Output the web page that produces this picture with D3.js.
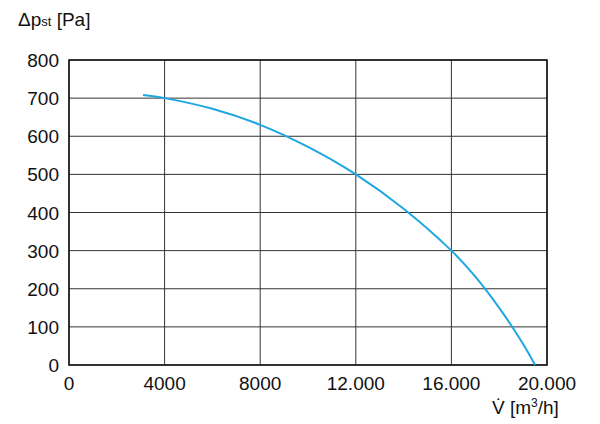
<!DOCTYPE html>
<html><head><meta charset="utf-8">
<script src="https://cdn.jsdelivr.net/npm/d3@7"></script>
<style>
body{margin:0;background:#fff}
text{font-family:"Liberation Sans Narrow","Liberation Sans",Arial,sans-serif;font-size:19px;fill:#111}
</style></head><body>
<div id="chart"></div>
<script>
// data
const flow = [3100, 4000, 6000, 8000, 10000, 12000, 14000, 16000, 17000, 18000, 19000, 19500];
const pressure = [708, 700, 672, 630, 572, 500, 410, 300, 232, 150, 55, 0];
const xTicks = [0, 4000, 8000, 12000, 16000, 20000];
const xTickLabels = ["0", "4000", "8000", "12.000", "16.000", "20.000"];
const yTicks = [0, 100, 200, 300, 400, 500, 600, 700, 800];

const width = 600, height = 424;
const m = {left: 69, right: 53, top: 60, bottom: 59};

const svg = d3.select("#chart").append("svg")
  .attr("width", width).attr("height", height);

const x = d3.scaleLinear().domain([0, 20000]).range([m.left, width - m.right]);
const y = d3.scaleLinear().domain([0, 800]).range([height - m.bottom, m.top]);

// grid
svg.append("g").selectAll("line").data(xTicks).join("line")
  .attr("x1", d => x(d)).attr("x2", d => x(d))
  .attr("y1", y(0)).attr("y2", y(800))
  .attr("stroke", "#333").attr("stroke-width", 1);
svg.append("g").selectAll("line").data(yTicks).join("line")
  .attr("x1", x(0)).attr("x2", x(20000))
  .attr("y1", d => y(d)).attr("y2", d => y(d))
  .attr("stroke", "#333").attr("stroke-width", 1);
svg.append("rect")
  .attr("x", x(0)).attr("y", y(800))
  .attr("width", x(20000) - x(0)).attr("height", y(0) - y(800))
  .attr("fill", "none").attr("stroke", "#111").attr("stroke-width", 1.5);

// axes labels
svg.append("g").selectAll("text").data(yTicks).join("text")
  .attr("x", x(0) - 10).attr("y", d => y(d) + 7)
  .attr("text-anchor", "end").text(d => d);
svg.append("g").selectAll("text").data(xTicks).join("text")
  .attr("x", d => x(d)).attr("y", y(0) + 25)
  .attr("text-anchor", "middle").text((d, i) => xTickLabels[i]);

// curve
const pts = flow.map((f, i) => [f, pressure[i]]);
svg.append("path")
  .datum(pts)
  .attr("d", d3.line().x(d => x(d[0])).y(d => y(d[1])).curve(d3.curveCatmullRom))
  .attr("fill", "none").attr("stroke", "#1ea7e1").attr("stroke-width", 2);

// titles
const yt = svg.append("text").attr("x", 18).attr("y", 26);
yt.append("tspan").text("Δp");
yt.append("tspan").attr("font-size", 13).text("st");
yt.append("tspan").text(" [Pa]");

const xt = svg.append("text").attr("x", 492).attr("y", 414);
xt.append("tspan").text("V\u0307 [m");
xt.append("tspan").attr("font-size", 12).attr("dy", -7).text("3");
xt.append("tspan").attr("dy", 7).text("/h]");
</script>
</body></html>
